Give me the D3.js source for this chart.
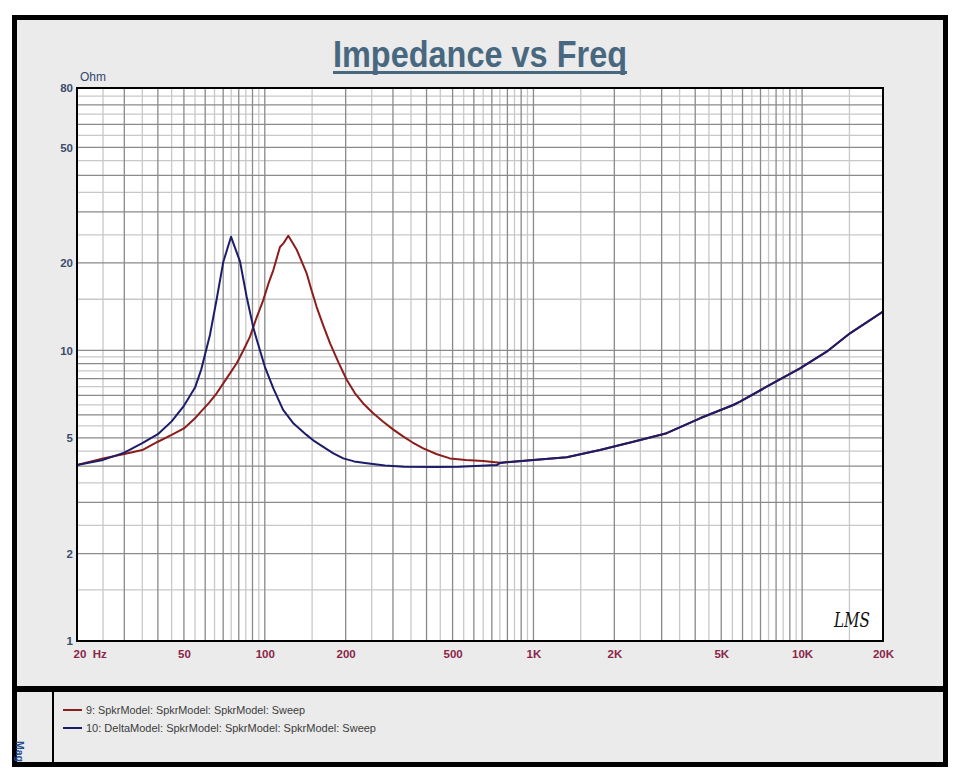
<!DOCTYPE html>
<html>
<head>
<meta charset="utf-8">
<script src="https://cdn.jsdelivr.net/npm/d3@7"></script>
<style>
  html, body { margin: 0; padding: 0; background: #ffffff; }
  svg { display: block; }
  .narrow { font-family: "Liberation Sans Narrow", "Arial Narrow", "Liberation Sans", Arial, sans-serif; font-stretch: condensed; }
</style>
</head>
<body>
<svg id="chart" width="960" height="768"></svg>
<script>
// ---------------- DATA ----------------
const titleText = "Impedance vs Freq";
const yUnit = "Ohm";
const xTickValues = [20, 50, 100, 200, 500, 1000, 2000, 5000, 10000, 20000];
const xTickLabels = ["20  Hz", "50", "100", "200", "500", "1K", "2K", "5K", "10K", "20K"];
const yTickValues = [1, 2, 5, 10, 20, 50, 80];
const yTickLabels = ["1", "2", "5", "10", "20", "50", "80"];

// Series 9: SpkrModel (red)
const redFreq = [20, 25, 30, 35, 40, 45, 50, 55, 57.4, 62, 66.2, 72, 78.6, 83, 88.1, 93, 98.7, 103, 107.6, 113.9, 117.5, 122.3, 131.5, 137, 143.2, 149, 156, 165, 175, 188, 202, 216, 232, 252, 276, 300, 328, 355, 389, 435, 489, 560, 650,
                 751, 1000, 1330, 1768, 2353, 3132, 4167, 4540, 5544, 5872, 7380, 9818, 12340, 15070, 20000];
const redOhm  = [4.03, 4.25, 4.4, 4.54, 4.85, 5.12, 5.39, 5.84, 6.11, 6.6, 7.12, 8.0, 9.03, 9.95, 11.15, 12.9, 14.9, 16.9, 18.9, 22.7, 23.4, 24.8, 22.2, 20.3, 18.4, 16.2, 14.1, 12.2, 10.58, 9.1, 7.91, 7.15, 6.58, 6.1, 5.68, 5.35, 5.05, 4.82, 4.6, 4.4, 4.25, 4.2, 4.16,
                 4.11, 4.2, 4.29, 4.54, 4.85, 5.19, 5.84, 6.03, 6.49, 6.66, 7.5, 8.68, 9.9, 11.45, 13.6];

// Series 10: DeltaModel (blue)
const blueFreq = [20, 25, 30, 35, 40, 45, 50, 55, 58, 62.5, 66.2, 70.1, 74.9, 80.9, 85.6, 90.6, 93.3, 100, 107.6, 117, 128, 143, 153, 165, 180, 196, 215, 240, 280, 330, 430, 530, 730,
                  751, 1000, 1330, 1768, 2353, 3132, 4167, 4540, 5544, 5872, 7380, 9818, 12340, 15070, 20000];
const blueOhm  = [4.03, 4.2, 4.45, 4.8, 5.15, 5.7, 6.45, 7.45, 8.6, 11.3, 15.0, 20.2, 24.6, 20.2, 15.3, 12.0, 10.9, 8.8, 7.4, 6.24, 5.6, 5.12, 4.87, 4.66, 4.42, 4.25, 4.15, 4.09, 4.02, 3.98, 3.97, 3.98, 4.03,
                  4.1, 4.2, 4.29, 4.54, 4.85, 5.19, 5.84, 6.03, 6.49, 6.66, 7.5, 8.68, 9.9, 11.45, 13.6];

const legendLabels = ["9: SpkrModel: SpkrModel: SpkrModel: Sweep", "10: DeltaModel: SpkrModel: SpkrModel: SpkrModel: Sweep"];
const seriesColors = ["#8c1d1d", "#1c1c6a"];

// ---------------- LAYOUT ----------------
const svg = d3.select("#chart");
const plot = { left: 77, top: 88, right: 883, bottom: 641 };

const x = d3.scaleLog().domain([20, 20000]).range([plot.left, plot.right]);
const y = d3.scaleLog().domain([1, 80]).range([plot.bottom, plot.top]);

// Frame and panels
svg.append("rect").attr("x", 12).attr("y", 15).attr("width", 936).attr("height", 752).attr("fill", "#000");
svg.append("rect").attr("x", 17).attr("y", 20).attr("width", 926).attr("height", 666).attr("fill", "#ebebeb");
svg.append("rect").attr("x", 17).attr("y", 692).attr("width", 926).attr("height", 70).attr("fill", "#ebebeb");
svg.append("rect").attr("x", 52).attr("y", 692).attr("width", 2).attr("height", 70).attr("fill", "#000");

// Plot background
svg.append("rect").attr("x", plot.left).attr("y", plot.top)
  .attr("width", plot.right - plot.left).attr("height", plot.bottom - plot.top).attr("fill", "#ffffff");

// Grid lines: every half-unit of each decade; whole units darker
function gridValues(lo, hi) {
  const out = [];
  for (let d = Math.floor(Math.log10(lo)); d <= Math.ceil(Math.log10(hi)); d++) {
    const base = Math.pow(10, d);
    for (let k = 2; k <= 20; k++) {
      const v = +(k * base / 2).toPrecision(6);
      if (v >= lo && v <= hi && !out.some(o => Math.abs(o.v - v) < 1e-9)) out.push({ v, major: k % 2 === 0 });
    }
  }
  return out;
}
const gx = gridValues(20, 20000);
const gy = gridValues(1, 80);
const grid = svg.append("g");
grid.selectAll("line.vx").data(gx.filter(d => !d.major)).join("line")
  .attr("x1", d => x(d.v)).attr("x2", d => x(d.v)).attr("y1", plot.top).attr("y2", plot.bottom)
  .attr("stroke", "#c8c8c8").attr("stroke-width", 1.3);
grid.selectAll("line.hy").data(gy.filter(d => !d.major)).join("line")
  .attr("y1", d => y(d.v)).attr("y2", d => y(d.v)).attr("x1", plot.left).attr("x2", plot.right)
  .attr("stroke", "#c8c8c8").attr("stroke-width", 1.3);
grid.selectAll("line.vxM").data(gx.filter(d => d.major)).join("line")
  .attr("x1", d => x(d.v)).attr("x2", d => x(d.v)).attr("y1", plot.top).attr("y2", plot.bottom)
  .attr("stroke", "#8a8a8a").attr("stroke-width", 1.3);
grid.selectAll("line.hyM").data(gy.filter(d => d.major)).join("line")
  .attr("y1", d => y(d.v)).attr("y2", d => y(d.v)).attr("x1", plot.left).attr("x2", plot.right)
  .attr("stroke", "#8a8a8a").attr("stroke-width", 1.3);

// Curves
svg.append("clipPath").attr("id", "clip").append("rect")
  .attr("x", plot.left).attr("y", plot.top).attr("width", plot.right - plot.left).attr("height", plot.bottom - plot.top);
const lineGen = d3.line().x(d => x(d[0])).y(d => y(d[1])).curve(d3.curveLinear);
const series = [
  d3.zip(redFreq, redOhm),
  d3.zip(blueFreq, blueOhm)
];
svg.append("g").attr("clip-path", "url(#clip)").selectAll("path").data(series).join("path")
  .attr("d", lineGen).attr("fill", "none")
  .attr("stroke", (d, i) => seriesColors[i]).attr("stroke-width", 2).attr("stroke-linejoin", "round");

// Plot border
svg.append("rect").attr("x", plot.left).attr("y", plot.top)
  .attr("width", plot.right - plot.left).attr("height", plot.bottom - plot.top)
  .attr("fill", "none").attr("stroke", "#000").attr("stroke-width", 2);

// Axes (labels via d3 axis generators, domain/ticks hidden)
const xAxis = d3.axisBottom(x).tickValues(xTickValues).tickSize(0).tickPadding(0)
  .tickFormat((d, i) => xTickLabels[i]);
const gX = svg.append("g").attr("transform", `translate(0,${plot.bottom + 17})`).call(xAxis);
gX.select(".domain").remove();
gX.selectAll("text").attr("class", "narrow").attr("dy", 0).attr("y", 0)
  .attr("font-size", 11.5).attr("font-weight", "bold").attr("fill", "#8a2548");
gX.selectAll(".tick").filter(d => d === 20).select("text")
  .attr("text-anchor", "start").attr("x", -4).attr("xml:space", "preserve").style("white-space", "pre");

const yAxis = d3.axisLeft(y).tickValues(yTickValues).tickSize(0).tickPadding(0)
  .tickFormat((d, i) => yTickLabels[i]);
const gY = svg.append("g").attr("transform", `translate(${plot.left - 4},0)`).call(yAxis);
gY.select(".domain").remove();
gY.selectAll("text").attr("class", "narrow")
  .attr("font-size", 11.5).attr("font-weight", "bold").attr("fill", "#3b4d6e");

// Unit label
svg.append("text").attr("class", "narrow").attr("x", 80).attr("y", 81)
  .attr("font-size", 12).attr("fill", "#34466e").text(yUnit);

// Title
svg.append("text").attr("x", 333).attr("y", 67)
  .attr("font-family", "'Liberation Sans Narrow', 'Liberation Sans', Arial, sans-serif")
  .attr("font-size", 37).attr("font-weight", "bold").attr("fill", "#48687f")
  .attr("textLength", 294).attr("lengthAdjust", "spacingAndGlyphs").text(titleText);
svg.append("rect").attr("x", 333).attr("y", 71).attr("width", 294).attr("height", 3).attr("fill", "#48687f");

// LMS logo
svg.append("text").attr("x", 834).attr("y", 627)
  .attr("font-family", "'DejaVu Serif', serif").attr("font-style", "italic")
  .attr("font-size", 20).attr("fill", "#111").attr("textLength", 36).attr("lengthAdjust", "spacingAndGlyphs")
  .text("LMS");

// Legend
const leg = svg.append("g");
legendLabels.forEach((lab, i) => {
  const yy = 710 + i * 18;
  leg.append("line").attr("x1", 63).attr("x2", 82).attr("y1", yy).attr("y2", yy)
    .attr("stroke", seriesColors[i]).attr("stroke-width", 2);
  leg.append("text").attr("class", "narrow").attr("x", 86).attr("y", yy + 4)
    .attr("font-size", 11.5).attr("fill", "#3c3c3c")
    .attr("textLength", i === 0 ? 219 : 290).attr("lengthAdjust", "spacingAndGlyphs").text(lab);
});

// Short rotated side label in the legend's left cell
svg.append("text").attr("transform", "translate(16,741) rotate(90)")
  .attr("font-family", "'Liberation Sans', Arial, sans-serif").attr("font-weight", "bold")
  .attr("font-size", 10.5).attr("fill", "#2a4f8f").text("Mag");
</script>
</body>
</html>
